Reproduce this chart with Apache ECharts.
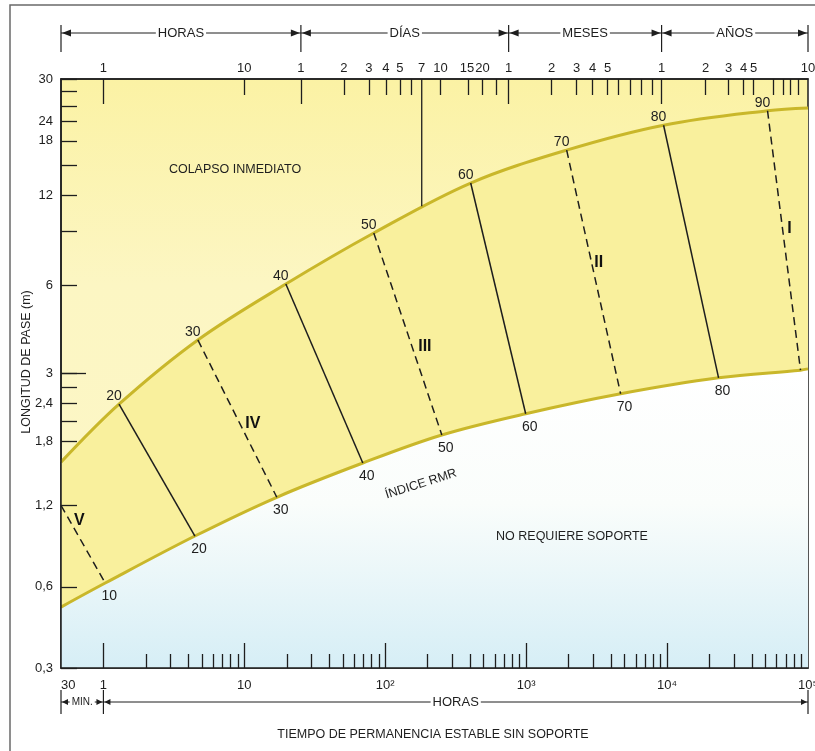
<!DOCTYPE html>
<html>
<head>
<meta charset="utf-8">
<script src="https://cdn.jsdelivr.net/npm/echarts@6/dist/echarts.min.js"></script>
<style>
html, body { margin: 0; padding: 0; background: #fff; }
#main { width: 815px; height: 751px; }
</style>
</head>
<body>
<div id="main"></div>
<script>
// curvas límite (horas, metros)
var upperHours = [0.5, 1.29, 4.68, 19.7, 82.9, 404, 1938, 9445, 51620, 100000];
var upperSpan = [1.50, 2.36, 3.90, 6.04, 9.00, 13.3, 17.2, 20.9, 23.4, 23.9];
var lowerHours = [0.5, 1.03, 4.46, 17.0, 69.3, 252, 992, 4680, 23190, 88470, 100000];
var lowerSpan = [0.483, 0.583, 0.842, 1.14, 1.49, 1.855, 2.19, 2.56, 2.90, 3.08, 3.11];

// líneas de índice RMR
var rmrValues = [10, 20, 30, 40, 50, 60, 70, 80, 90];
var rmrTopHours = [0.5, 1.29, 4.68, 19.7, 82.9, 404, 1938, 9445, 51620];
var rmrTopSpan = [1.07, 2.36, 3.90, 6.04, 9.00, 13.3, 17.2, 20.9, 23.4];
var rmrBottomHours = [1.03, 4.46, 17.0, 69.3, 252, 992, 4680, 23190, 88470];
var rmrBottomSpan = [0.583, 0.842, 1.14, 1.49, 1.855, 2.19, 2.56, 2.90, 3.08];
var rmrDashed = [true, false, true, false, true, false, true, false, true];

// clases de roca
var romanText = ['V', 'IV', 'III', 'II', 'I'];
var romanHours = [0.674, 11.5, 191, 3270, 73900];
var romanSpan = [0.947, 2.02, 3.69, 7.12, 9.29];

// línea de 7 días
var weekHours = 181.5;
var weekSpan = [30, 11.1];

// eje vertical
var yTickSpan = [30, 27.2, 24.3, 21.5, 18.5, 15.3, 12.1, 9.09, 5.99, 3.0, 2.70, 2.38, 2.07, 1.77, 1.07, 0.566, 0.3];
var yLongTickSpan = [3.0];
var yLabelSpan = [30, 21.5, 18.5, 12.1, 5.99, 3.0, 2.38, 1.77, 1.07, 0.566, 0.3];
var yLabelText = ['30', '24', '18', '12', '6', '3', '2,4', '1,8', '1,2', '0,6', '0,3'];

// eje inferior (horas)
var xMajorHours = [1, 10, 100, 1000, 10000];
var xMinorHours = [2, 3, 4, 5, 6, 7, 8, 9,
  20, 30, 40, 50, 60, 70, 80, 90,
  200, 300, 400, 500, 600, 700, 800, 900,
  2000, 3000, 4000, 5000, 6000, 7000, 8000, 9000,
  20000, 30000, 40000, 50000, 60000, 70000, 80000, 90000];
var xLabelHours = [0.5, 1, 10, 100, 1000, 10000, 100000];
var xLabelText = ['30', '1', '10', '10²', '10³', '10⁴', '10⁵'];

// eje superior (horas, días, meses, años)
var topLabelHours = [1, 10, 25.2, 50.8, 76.4, 101, 127, 181.5, 247, 380, 490, 751, 1517, 2281, 2962, 3784, 9141, 18750, 27310, 34880, 41070, 100000];
var topLabelText = ['1', '10', '1', '2', '3', '4', '5', '7', '10', '15', '20', '1', '2', '3', '4', '5', '1', '2', '3', '4', '5', '10'];
var topLongHours = [1, 25.2, 751, 9141];
var topShortHours = [10, 50.8, 76.4, 101, 127, 153, 247, 385, 484, 618, 1517, 2281, 2962, 3784, 4529, 5510, 6594, 7893, 18750, 27310, 34880, 41070, 56930, 67040, 75140, 85630];

var topBracketEdges = [0.5, 25.2, 751, 9141, 100000];
var topBracketNames = ['HORAS', 'DÍAS', 'MESES', 'AÑOS'];
var bottomBracketEdges = [0.5, 1, 100000];
var bottomBracketNames = ['MIN.', 'HORAS'];

var INK = '#1e1e1e';
var CURVE = '#c9b72a';
var FONT = '"Liberation Sans", Arial, sans-serif';
var L = Math.log10;

function pair(h, m) { return [L(h), L(m)]; }

function nearestText(values, texts) {
    return function (v) {
        var best = 0;
        for (var i = 1; i < values.length; i++) {
            if (Math.abs(L(values[i]) - v) < Math.abs(L(values[best]) - v)) best = i;
        }
        return texts[best];
    };
}

var xMin = L(0.5), xMax = L(100000);
var yMin = L(0.3), yMax = L(30);

function hiddenAxis(extra) {
    var a = {
        type: 'value', z: 10, splitLine: { show: false },
        axisLine: { show: false, onZero: false },
        axisLabel: { show: false }, axisTick: { show: false }
    };
    for (var k in extra) a[k] = extra[k];
    return a;
}

var xAxes = [
    {
        type: 'value', position: 'bottom', min: xMin, max: xMax, z: 10,
        splitLine: { show: false },
        axisLine: { show: true, onZero: false, lineStyle: { color: INK, width: 1.5 } },
        axisTick: { show: true, inside: true, length: 25, customValues: xMajorHours.map(L), lineStyle: { color: INK, width: 1.3 } },
        axisLabel: {
            show: true, customValues: xLabelHours.map(L), formatter: nearestText(xLabelHours, xLabelText),
            margin: 11, alignMinLabel: 'left', color: INK, fontSize: 13, fontFamily: FONT
        }
    },
    hiddenAxis({
        position: 'bottom', min: xMin, max: xMax,
        axisTick: { show: true, inside: true, length: 14, customValues: xMinorHours.map(L), lineStyle: { color: INK, width: 1.3 } }
    }),
    {
        type: 'value', position: 'top', min: xMin, max: xMax, z: 10,
        splitLine: { show: false },
        axisLine: { show: true, onZero: false, lineStyle: { color: INK, width: 1.5 } },
        axisTick: { show: true, inside: true, length: 16, customValues: topShortHours.map(L), lineStyle: { color: INK, width: 1.3 } },
        axisLabel: {
            show: true, customValues: topLabelHours.map(L), formatter: nearestText(topLabelHours, topLabelText),
            margin: 4, color: INK, fontSize: 13, fontFamily: FONT
        }
    },
    hiddenAxis({
        position: 'top', min: xMin, max: xMax,
        axisTick: { show: true, inside: true, length: 25, customValues: topLongHours.map(L), lineStyle: { color: INK, width: 1.3 } }
    })
];

var yAxes = [
    {
        type: 'value', position: 'left', min: yMin, max: yMax, z: 10,
        splitLine: { show: false },
        axisLine: { show: true, onZero: false, lineStyle: { color: INK, width: 1.5 } },
        axisTick: { show: true, inside: true, length: 16, customValues: yTickSpan.map(L), lineStyle: { color: INK, width: 1.3 } },
        axisLabel: {
            show: true, customValues: yLabelSpan.map(L), formatter: nearestText(yLabelSpan, yLabelText),
            margin: 8, color: INK, fontSize: 13, fontFamily: FONT
        }
    },
    hiddenAxis({
        position: 'left', min: yMin, max: yMax,
        axisTick: { show: true, inside: true, length: 25, customValues: yLongTickSpan.map(L), lineStyle: { color: INK, width: 1.3 } }
    })
];

var series = [];

series.push({
    type: 'line', name: 'superior', silent: true, z: 2,
    data: upperHours.map(function (h, i) { return pair(h, upperSpan[i]); }),
    smooth: 0.35, symbol: 'none',
    lineStyle: { color: CURVE, width: 3 },
    areaStyle: { origin: 'start', color: '#f9f09d', opacity: 1 }
});

series.push({
    type: 'line', name: 'inferior', silent: true, z: 2,
    data: lowerHours.map(function (h, i) { return pair(h, lowerSpan[i]); }),
    smooth: 0.35, symbol: 'none',
    lineStyle: { color: CURVE, width: 3 },
    areaStyle: {
        origin: 'start', opacity: 1,
        color: new echarts.graphic.LinearGradient(0, 0, 0, 1, [
            { offset: 0, color: '#ffffff' },
            { offset: 0.45, color: '#fafdfb' },
            { offset: 1, color: '#d6eef6' }
        ])
    }
});

rmrValues.forEach(function (r, i) {
    series.push({
        type: 'line', silent: true, z: 3,
        symbol: 'circle', symbolSize: 0,
        lineStyle: { color: INK, width: 1.5, type: rmrDashed[i] ? [8, 5] : 'solid' },
        label: { formatter: String(r), color: INK, fontSize: 14, fontFamily: FONT },
        data: [
            { value: pair(rmrTopHours[i], rmrTopSpan[i]), label: { show: i > 0, position: 'top', distance: 1, offset: [-5, 0] } },
            { value: pair(rmrBottomHours[i], rmrBottomSpan[i]), label: { show: r < 90, position: 'bottom', distance: 6, offset: [4, 0] } }
        ]
    });
});

series.push({
    type: 'line', silent: true, z: 3, symbol: 'none',
    lineStyle: { color: INK, width: 1.3 },
    data: weekSpan.map(function (m) { return pair(weekHours, m); })
});

series.push({
    type: 'scatter', silent: true, z: 4, symbolSize: 0,
    itemStyle: { opacity: 1, color: '#111' },
    data: romanHours.map(function (h, i) { return { value: pair(h, romanSpan[i]), name: romanText[i] }; }),
    label: {
        show: true, position: 'inside', formatter: '{b}', color: '#111',
        textBorderWidth: 0, textBorderColor: 'transparent',
        fontSize: 16, fontWeight: 'bold', fontFamily: FONT
    }
});

var chart = echarts.init(document.getElementById('main'));
chart.setOption({
    animation: false,
    backgroundColor: '#ffffff',
    grid: {
        left: 61, right: 7, top: 79, bottom: 83,
        outerBoundsMode: 'none',
        show: true, borderColor: INK, borderWidth: 1.5,
        backgroundColor: new echarts.graphic.LinearGradient(0, 0, 0, 1, [
            { offset: 0, color: '#fbf2a4' },
            { offset: 0.35, color: '#fcf6c3' },
            { offset: 1, color: '#fcf7c8' }
        ])
    },
    xAxis: xAxes,
    yAxis: yAxes,
    series: series
});

function px(h) { return chart.convertToPixel({ xAxisIndex: 0 }, L(h)); }

function bracket(edges, names, sizes, y, y1, y2, arrow, half) {
    var out = [];
    var xs = edges.map(px);
    xs.forEach(function (x) {
        out.push({ type: 'line', shape: { x1: x, y1: y1, x2: x, y2: y2 }, style: { stroke: INK, lineWidth: 1.2 } });
    });
    for (var i = 0; i < names.length; i++) {
        var a = xs[i], b = xs[i + 1];
        out.push({ type: 'line', shape: { x1: a, y1: y, x2: b, y2: y }, style: { stroke: INK, lineWidth: 1 } });
        out.push({ type: 'polygon', shape: { points: [[a + 1, y], [a + 1 + arrow, y - half], [a + 1 + arrow, y + half]] }, style: { fill: INK } });
        out.push({ type: 'polygon', shape: { points: [[b - 1, y], [b - 1 - arrow, y - half], [b - 1 - arrow, y + half]] }, style: { fill: INK } });
        out.push({
            type: 'text', x: (a + b) / 2, y: y, z: 10,
            style: {
                text: names[i], fill: INK, font: sizes[i] + 'px ' + FONT,
                align: 'center', verticalAlign: 'middle', backgroundColor: '#ffffff', padding: [1, 2]
            }
        });
    }
    return out;
}

function note(text, x, y, size, rot) {
    return {
        type: 'text', x: x, y: y, rotation: rot || 0, z: 10,
        style: { text: text, fill: INK, font: size + 'px ' + FONT, align: 'center', verticalAlign: 'middle' }
    };
}

var graphics = [
    { type: 'polyline', shape: { points: [[10, 751], [10, 5], [815, 5]] }, style: { stroke: '#6a6a6a', lineWidth: 1.5, fill: null } }
];
graphics = graphics.concat(bracket(topBracketEdges, topBracketNames, [13, 13, 13, 13], 33, 25, 52, 9, 3.5));
graphics = graphics.concat(bracket(bottomBracketEdges, bottomBracketNames, [10, 13], 702, 690, 714, 6, 3));
graphics.push(note('COLAPSO INMEDIATO', 235, 170, 12.5));
graphics.push(note('NO REQUIERE SOPORTE', 572, 537, 12.5));
graphics.push(note('ÍNDICE RMR', 421, 484, 12.5, 0.31));
graphics.push(note('LONGITUD DE PASE (m)', 27, 362, 12.5, Math.PI / 2));
graphics.push(note('TIEMPO DE PERMANENCIA ESTABLE SIN SOPORTE', 433, 735, 12.5));

chart.setOption({ graphic: graphics });
</script>
</body>
</html>
